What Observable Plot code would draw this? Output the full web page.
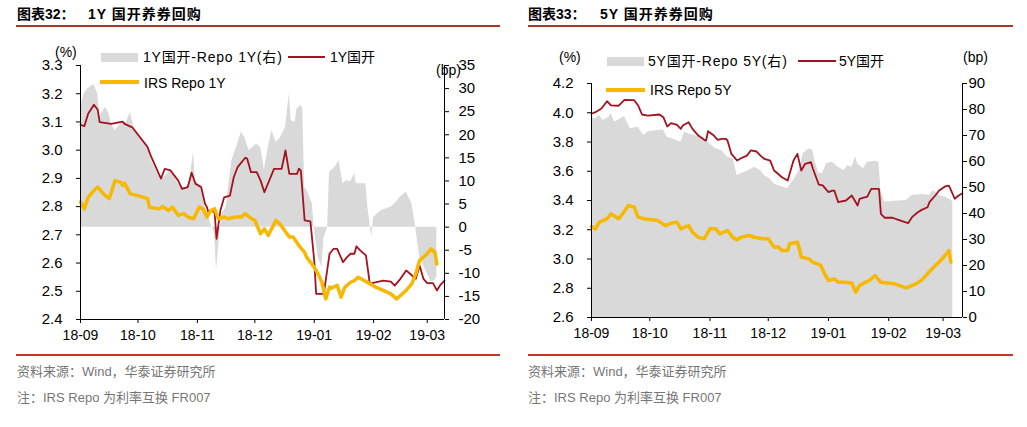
<!DOCTYPE html>
<html><head><meta charset="utf-8">
<script src="https://cdn.jsdelivr.net/npm/d3@7"></script>
<script src="https://cdn.jsdelivr.net/npm/@observablehq/plot@0.6"></script>
<style>
body{margin:0;background:#fff;}
#root{position:relative;width:1027px;height:427px;overflow:hidden;background:#fff;font-family:"Liberation Sans",Arial,"Noto Sans CJK SC",sans-serif;}
.abs{position:absolute;white-space:nowrap;}
.title{font-family:"Liberation Sans","Noto Sans CJK SC",sans-serif;font-weight:bold;font-size:14px;line-height:16px;color:#000;}
.lg{font-size:14px;line-height:16px;color:#000;}
.src{font-size:13px;line-height:16px;color:#767676;}
svg{position:absolute;top:0;overflow:visible;}
</style></head><body><div id="root"></div>
<script>
// ---------- data ----------
const monthTicks = ["2018-09-01","2018-10-01","2018-11-01","2018-12-01","2019-01-01","2019-02-01","2019-03-01"];
const yTicks1 = [2.4,2.5,2.6,2.7,2.8,2.9,3.0,3.1,3.2,3.3];
const bpTicks1 = [-20,-15,-10,-5,0,5,10,15,20,25,30,35];
const yTicks5 = [2.6,2.8,3.0,3.2,3.4,3.6,3.8,4.0,4.2];
const bpTicks5 = [0,10,20,30,40,50,60,70,80,90];

const cdb1 = [["2018-09-01",3.090],["2018-09-03",3.085],["2018-09-05",3.129],["2018-09-08",3.161],["2018-09-10",3.143],["2018-09-11",3.099],["2018-09-17",3.093],["2018-09-23",3.101],["2018-09-24",3.093],["2018-09-28",3.081],["2018-10-06",3.011],["2018-10-08",2.975],["2018-10-13",2.899],["2018-10-15",2.934],["2018-10-18",2.928],["2018-10-22",2.892],["2018-10-24",2.863],["2018-10-27",2.869],["2018-10-29",2.920],["2018-10-31",2.881],["2018-11-03",2.869],["2018-11-05",2.810],["2018-11-06",2.798],["2018-11-07",2.775],["2018-11-08",2.786],["2018-11-10",2.780],["2018-11-11",2.686],["2018-11-13",2.786],["2018-11-15",2.833],["2018-11-18",2.839],["2018-11-20",2.904],["2018-11-22",2.940],["2018-11-26",2.973],["2018-11-27",2.970],["2018-11-29",2.922],["2018-12-02",2.922],["2018-12-04",2.892],["2018-12-06",2.851],["2018-12-11",2.934],["2018-12-15",2.934],["2018-12-17",2.999],["2018-12-19",2.916],["2018-12-23",2.916],["2018-12-24",2.934],["2018-12-25",2.928],["2018-12-27",2.751],["2018-12-30",2.748],["2019-01-01",2.609],["2019-01-02",2.491],["2019-01-06",2.491],["2019-01-09",2.633],["2019-01-11",2.650],["2019-01-13",2.650],["2019-01-16",2.603],["2019-01-18",2.620],["2019-01-20",2.633],["2019-01-22",2.633],["2019-01-23",2.659],["2019-01-25",2.645],["2019-01-28",2.627],["2019-01-30",2.527],["2019-02-06",2.538],["2019-02-10",2.534],["2019-02-12",2.520],["2019-02-15",2.544],["2019-02-18",2.574],["2019-02-20",2.562],["2019-02-23",2.544],["2019-02-25",2.591],["2019-02-27",2.544],["2019-03-01",2.529],["2019-03-04",2.529],["2019-03-06",2.503],["2019-03-08",2.524],["2019-03-10",2.538]];

const irs1 = [["2018-09-01",2.816],["2018-09-03",2.792],["2018-09-05",2.833],["2018-09-08",2.857],["2018-09-10",2.869],["2018-09-13",2.845],["2018-09-16",2.828],["2018-09-19",2.892],["2018-09-22",2.886],["2018-09-23",2.875],["2018-09-24",2.883],["2018-09-27",2.845],["2018-10-01",2.839],["2018-10-06",2.828],["2018-10-07",2.798],["2018-10-12",2.792],["2018-10-14",2.800],["2018-10-17",2.786],["2018-10-19",2.798],["2018-10-22",2.769],["2018-10-25",2.775],["2018-10-27",2.763],["2018-10-30",2.757],["2018-11-02",2.798],["2018-11-04",2.792],["2018-11-06",2.763],["2018-11-08",2.786],["2018-11-10",2.792],["2018-11-12",2.757],["2018-11-15",2.763],["2018-11-17",2.757],["2018-11-21",2.763],["2018-11-24",2.763],["2018-11-26",2.775],["2018-11-28",2.763],["2018-12-01",2.751],["2018-12-04",2.704],["2018-12-06",2.721],["2018-12-08",2.698],["2018-12-12",2.751],["2018-12-14",2.739],["2018-12-16",2.721],["2018-12-19",2.692],["2018-12-21",2.692],["2018-12-24",2.662],["2018-12-27",2.638],["2018-12-28",2.621],["2019-01-01",2.585],["2019-01-03",2.562],["2019-01-05",2.532],["2019-01-07",2.473],["2019-01-09",2.515],["2019-01-10",2.511],["2019-01-13",2.521],["2019-01-15",2.479],["2019-01-17",2.515],["2019-01-20",2.532],["2019-01-22",2.538],["2019-01-24",2.550],["2019-01-27",2.538],["2019-01-30",2.527],["2019-02-02",2.515],["2019-02-06",2.503],["2019-02-10",2.491],["2019-02-13",2.473],["2019-02-15",2.485],["2019-02-18",2.503],["2019-02-21",2.527],["2019-02-23",2.562],["2019-02-25",2.609],["2019-02-27",2.621],["2019-03-01",2.633],["2019-03-03",2.650],["2019-03-05",2.638],["2019-03-06",2.597]];

const spread1 = [["2018-09-01",26.0],["2018-09-03",28.9],["2018-09-05",30.0],["2018-09-08",30.9],["2018-09-10",28.9],["2018-09-11",23.8],["2018-09-14",26.0],["2018-09-16",24.5],["2018-09-17",22.4],["2018-09-19",20.9],["2018-09-22",22.4],["2018-09-25",22.7],["2018-09-27",24.9],["2018-09-29",21.4],["2018-09-30",21.0],["2018-10-06",17.7],["2018-10-08",14.4],["2018-10-13",10.1],["2018-10-18",12.3],["2018-10-22",9.4],["2018-10-26",8.3],["2018-10-28",10.1],["2018-10-30",16.2],["2018-10-31",10.1],["2018-11-03",8.8],["2018-11-05",4.3],["2018-11-07",2.1],["2018-11-08",0.7],["2018-11-10",-1.4],["2018-11-11",-9.4],["2018-11-13",0],["2018-11-14",2.9],["2018-11-16",4.3],["2018-11-19",14.4],["2018-11-22",18.0],["2018-11-24",20.6],["2018-11-26",19.2],["2018-11-28",16.6],["2018-11-29",17.0],["2018-12-02",18.0],["2018-12-04",17.3],["2018-12-05",15.1],["2018-12-06",12.3],["2018-12-08",17.3],["2018-12-10",20.9],["2018-12-12",18.4],["2018-12-14",19.1],["2018-12-17",21.6],["2018-12-19",28.9],["2018-12-20",23.1],["2018-12-22",22.7],["2018-12-23",25.6],["2018-12-25",26.3],["2018-12-26",25.9],["2018-12-27",8.6],["2018-12-28",8.1],["2018-12-31",5.1],["2019-01-01",0],["2019-01-03",-6.5],["2019-01-05",-8.7],["2019-01-06",-2.6],["2019-01-08",0],["2019-01-09",11.9],["2019-01-12",13.0],["2019-01-14",14.4],["2019-01-16",9.4],["2019-01-18",10.1],["2019-01-20",9.8],["2019-01-22",11.5],["2019-01-23",9.4],["2019-01-28",9.4],["2019-01-29",4.3],["2019-01-31",-2.2],["2019-02-01",2.1],["2019-02-05",3.6],["2019-02-10",4.3],["2019-02-12",5.0],["2019-02-15",6.5],["2019-02-18",7.6],["2019-02-21",5.1],["2019-02-23",0],["2019-02-25",-6.5],["2019-03-01",-10.1],["2019-03-03",-11.9],["2019-03-05",-11.5],["2019-03-06",-10.8]];

const cdb5 = [["2018-09-01",3.993],["2018-09-03",4.004],["2018-09-06",4.027],["2018-09-09",4.079],["2018-09-11",4.050],["2018-09-15",4.048],["2018-09-18",4.088],["2018-09-23",4.086],["2018-09-25",4.050],["2018-09-27",3.988],["2018-09-30",3.981],["2018-10-06",3.988],["2018-10-08",3.970],["2018-10-10",3.906],["2018-10-12",3.929],["2018-10-15",3.917],["2018-10-17",3.890],["2018-10-18",3.913],["2018-10-21",3.935],["2018-10-23",3.890],["2018-10-26",3.844],["2018-10-29",3.815],["2018-10-30",3.810],["2018-10-31",3.874],["2018-11-03",3.844],["2018-11-05",3.815],["2018-11-07",3.822],["2018-11-09",3.822],["2018-11-10",3.810],["2018-11-12",3.719],["2018-11-15",3.673],["2018-11-17",3.689],["2018-11-20",3.707],["2018-11-22",3.742],["2018-11-25",3.735],["2018-11-27",3.707],["2018-11-29",3.684],["2018-12-02",3.673],["2018-12-04",3.605],["2018-12-06",3.583],["2018-12-08",3.559],["2018-12-11",3.537],["2018-12-14",3.673],["2018-12-16",3.719],["2018-12-18",3.605],["2018-12-20",3.651],["2018-12-23",3.662],["2018-12-24",3.617],["2018-12-27",3.509],["2018-12-29",3.503],["2019-01-01",3.457],["2019-01-03",3.468],["2019-01-04",3.468],["2019-01-06",3.389],["2019-01-10",3.400],["2019-01-13",3.434],["2019-01-16",3.366],["2019-01-17",3.411],["2019-01-21",3.427],["2019-01-23",3.480],["2019-01-27",3.480],["2019-01-28",3.309],["2019-01-30",3.282],["2019-02-03",3.282],["2019-02-06",3.268],["2019-02-11",3.245],["2019-02-13",3.286],["2019-02-16",3.320],["2019-02-18",3.336],["2019-02-21",3.354],["2019-02-22",3.389],["2019-02-25",3.434],["2019-02-27",3.468],["2019-03-02",3.496],["2019-03-04",3.502],["2019-03-05",3.473],["2019-03-07",3.412],["2019-03-09",3.434],["2019-03-11",3.450]];

const irs5 = [["2018-09-01",3.222],["2018-09-03",3.206],["2018-09-05",3.252],["2018-09-09",3.275],["2018-09-11",3.309],["2018-09-15",3.275],["2018-09-17",3.309],["2018-09-20",3.366],["2018-09-23",3.355],["2018-09-25",3.286],["2018-09-28",3.275],["2018-10-05",3.264],["2018-10-09",3.229],["2018-10-12",3.245],["2018-10-15",3.252],["2018-10-17",3.206],["2018-10-21",3.229],["2018-10-23",3.183],["2018-10-26",3.149],["2018-10-29",3.138],["2018-11-01",3.206],["2018-11-04",3.206],["2018-11-06",3.172],["2018-11-10",3.195],["2018-11-13",3.145],["2018-11-15",3.131],["2018-11-17",3.149],["2018-11-21",3.161],["2018-11-24",3.149],["2018-11-28",3.138],["2018-12-01",3.138],["2018-12-04",3.081],["2018-12-06",3.084],["2018-12-08",3.058],["2018-12-11",3.058],["2018-12-12",3.104],["2018-12-16",3.115],["2018-12-17",3.070],["2018-12-18",3.013],["2018-12-22",3.001],["2018-12-24",2.978],["2018-12-28",2.956],["2018-12-30",2.899],["2019-01-01",2.853],["2019-01-04",2.864],["2019-01-06",2.841],["2019-01-09",2.841],["2019-01-13",2.836],["2019-01-15",2.773],["2019-01-17",2.819],["2019-01-20",2.841],["2019-01-22",2.853],["2019-01-25",2.887],["2019-01-28",2.841],["2019-01-31",2.836],["2019-02-04",2.830],["2019-02-10",2.803],["2019-02-15",2.830],["2019-02-18",2.857],["2019-02-21",2.899],["2019-02-25",2.956],["2019-02-27",2.978],["2019-03-02",3.024],["2019-03-04",3.058],["2019-03-05",2.978]];

const spread5 = [["2018-09-01",77.0],["2018-09-03",76.4],["2018-09-05",77.7],["2018-09-07",75.8],["2018-09-10",77.0],["2018-09-11",78.6],["2018-09-13",75.1],["2018-09-16",76.4],["2018-09-18",77.3],["2018-09-21",72.6],["2018-09-25",73.2],["2018-09-28",70.0],["2018-09-30",71.3],["2018-10-05",71.9],["2018-10-08",72.2],["2018-10-10",69.3],["2018-10-13",68.7],["2018-10-17",67.4],["2018-10-19",71.3],["2018-10-21",70.6],["2018-10-26",69.6],["2018-10-29",67.8],["2018-10-31",67.4],["2018-11-04",64.9],["2018-11-07",64.2],["2018-11-10",61.7],["2018-11-13",61.0],["2018-11-15",54.6],["2018-11-17",55.3],["2018-11-21",56.5],["2018-11-24",57.8],["2018-11-27",56.5],["2018-11-29",54.6],["2018-12-02",53.3],["2018-12-04",51.4],["2018-12-06",50.8],["2018-12-09",50.1],["2018-12-11",49.5],["2018-12-12",50.8],["2018-12-14",52.7],["2018-12-17",56.5],["2018-12-19",63.0],["2018-12-22",64.9],["2018-12-24",64.2],["2018-12-25",60.4],["2018-12-27",55.5],["2018-12-29",55.5],["2018-12-31",59.1],["2019-01-03",59.7],["2019-01-06",57.8],["2019-01-09",56.5],["2019-01-11",58.5],["2019-01-13",57.8],["2019-01-15",61.7],["2019-01-16",59.1],["2019-01-19",57.2],["2019-01-21",59.7],["2019-01-25",60.1],["2019-01-27",59.7],["2019-01-28",48.8],["2019-01-30",44.4],["2019-02-04",44.7],["2019-02-10",45.0],["2019-02-13",46.9],["2019-02-18",47.3],["2019-02-22",46.9],["2019-02-24",48.8],["2019-02-27",46.9],["2019-03-02",46.3],["2019-03-05",45.2],["2019-03-06",44.5]];

// ---------- helpers ----------
const P = s => new Date(s + "T00:00:00Z");
const rows = a => a.map(([d, v]) => ({date: P(d), v}));
const RED = "#a3131f", YEL = "#f6b800", GRAY = "#d9d9d9";
const root = document.getElementById("root");

function chart(o) {
  const svg = Plot.plot({
    width: o.width, height: o.height,
    marginLeft: o.mL, marginRight: o.mR, marginTop: o.mT, marginBottom: o.mB,
    style: {fontFamily: '"Liberation Sans", Arial, sans-serif', fontSize: "14px", color: "#000", background: "transparent", overflow: "visible"},
    x: {type: "utc", domain: [P("2018-09-01"), P(o.end)]},
    y: {domain: o.yDomain},
    marks: [
      Plot.areaY(rows(o.spread), {x: "date", y1: () => o.toPct(0), y2: d => o.toPct(d.v), fill: GRAY}),
      Plot.line(rows(o.cdb), {x: "date", y: "v", stroke: RED, strokeWidth: 1.8}),
      Plot.line(rows(o.irs), {x: "date", y: "v", stroke: YEL, strokeWidth: 3.5}),
      Plot.ruleX([P("2018-09-01"), P(o.end)], {stroke: "#000", strokeWidth: 1}),
      Plot.ruleY([o.yDomain[0]], {stroke: "#000", strokeWidth: 1}),
      Plot.axisX({ticks: monthTicks.map(P), tickFormat: d3.utcFormat("%y-%m"), tickSize: 4, tickPadding: 7, label: null, fontSize: 14}),
      Plot.axisY({anchor: "left", ticks: o.yTicks, tickFormat: d => d.toFixed(1), tickSize: 4, tickPadding: 14, label: null, fontSize: 15}),
      Plot.axisY({anchor: "right", ticks: o.bpTicks.map(o.toPct), tickFormat: d => String(Math.round(o.toBp(d))), tickSize: 4, tickPadding: o.rPad, label: null, fontSize: 15})
    ]
  });
  svg.style.left = o.left + "px";
  root.appendChild(svg);
}

function addText(txt, cls, left, top, extra) {
  const d = document.createElement("div");
  d.className = "abs " + cls;
  d.textContent = txt;
  d.style.left = left + "px"; d.style.top = top + "px";
  if (extra) Object.assign(d.style, extra);
  root.appendChild(d);
}
function addBox(left, top, w, h, color) {
  const d = document.createElement("div");
  d.className = "abs";
  Object.assign(d.style, {left: left + "px", top: top + "px", width: w + "px", height: h + "px", background: color});
  root.appendChild(d);
}

// ---------- left panel (1Y) ----------
chart({left: 0, width: 510, height: 350, mL: 80, mR: 66, mT: 65, mB: 31,
  end: "2019-03-10", yDomain: [2.4, 3.3], yTicks: yTicks1, bpTicks: bpTicks1, rPad: 10,
  toPct: bp => 2.4 + (bp + 20) * 0.9 / 55, toBp: p => (p - 2.4) * 55 / 0.9 - 20,
  spread: spread1, cdb: cdb1, irs: irs1});

// ---------- right panel (5Y) ----------
chart({left: 510, width: 517, height: 350, mL: 81, mR: 65, mT: 83, mB: 33,
  end: "2019-03-11", yDomain: [2.6, 4.2], yTicks: yTicks5, bpTicks: bpTicks5, rPad: 2,
  toPct: bp => 2.6 + bp * 1.6 / 90, toBp: p => (p - 2.6) * 90 / 1.6,
  spread: spread5, cdb: cdb5, irs: irs5});

// titles & rules
const titleSp = {letterSpacing: "1px"};
addText("图表32：", "title", 17, 6);
addText("1Y 国开养券回购", "title", 88, 6, titleSp);
addText("图表33：", "title", 528, 6);
addText("5Y 国开养券回购", "title", 600, 6, titleSp);
addBox(16, 25, 484, 2, "#a9352b");
addBox(528, 25, 485, 2, "#a9352b");
addBox(16, 354, 484, 2, "#c0392b");
addBox(528, 354, 485, 2, "#c0392b");

// unit labels
addText("(%)", "lg", 55, 44);
addText("(bp)", "lg", 436, 62);
addText("(%)", "lg", 559, 49);
addText("(bp)", "lg", 963, 49);

// legends 1Y
const lgSp = {letterSpacing: "0.8px"};
addBox(101, 53, 37, 9, GRAY);
addText("1Y国开-Repo 1Y(右)", "lg", 143, 49, lgSp);
addBox(288, 56, 37, 2, RED);
addText("1Y国开", "lg", 330, 49);
addBox(100, 80, 39, 4, YEL);
addText("IRS Repo 1Y", "lg", 144, 75);

// legends 5Y
addBox(607, 57, 37, 9, GRAY);
addText("5Y国开-Repo 5Y(右)", "lg", 648, 53, lgSp);
addBox(798, 60, 38, 2, RED);
addText("5Y国开", "lg", 839, 53);
addBox(606, 88, 39, 4, YEL);
addText("IRS Repo 5Y", "lg", 650, 82);

// sources
addText("资料来源：Wind，华泰证券研究所", "src", 17, 364);
addText("注：IRS Repo 为利率互换 FR007", "src", 17, 390);
addText("资料来源：Wind，华泰证券研究所", "src", 528, 364);
addText("注：IRS Repo 为利率互换 FR007", "src", 528, 390);
</script></body></html>
